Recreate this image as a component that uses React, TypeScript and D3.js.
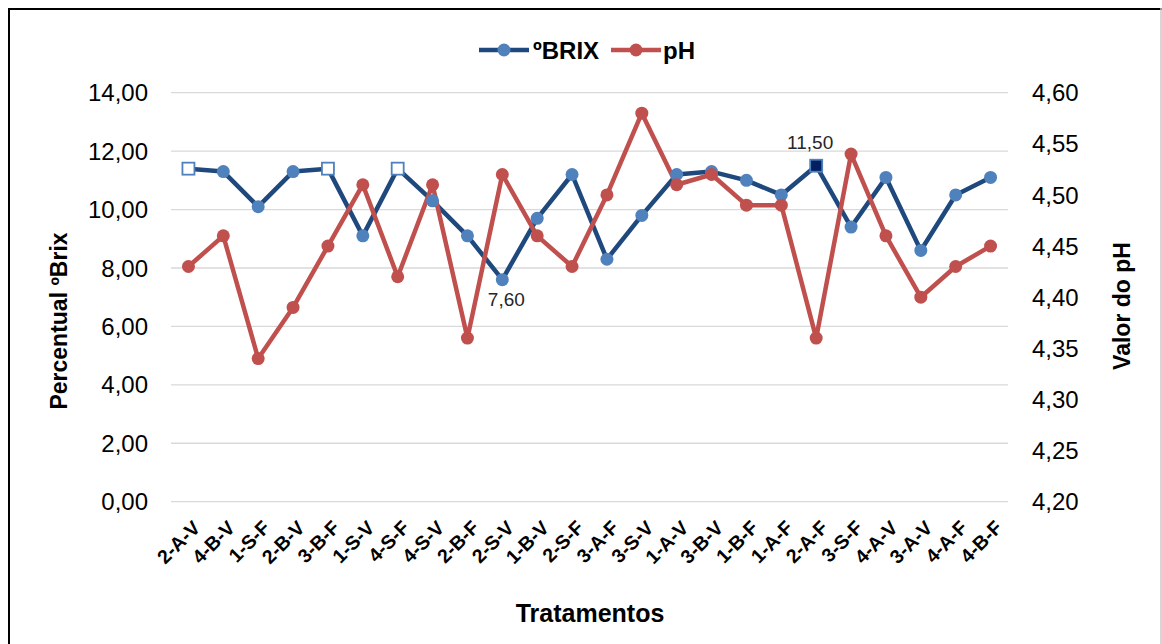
import { useEffect, useRef } from 'react'
import * as d3 from 'd3'

const categories = ['2-A-V', '4-B-V', '1-S-F', '2-B-V', '3-B-F', '1-S-V', '4-S-F', '4-S-V', '2-B-F', '2-S-V', '1-B-V', '2-S-F', '3-A-F', '3-S-V', '1-A-V', '3-B-V', '1-B-F', '1-A-F', '2-A-F', '3-S-F', '4-A-V', '3-A-V', '4-A-F', '4-B-F']
const brix = [11.4, 11.3, 10.1, 11.3, 11.4, 9.1, 11.4, 10.3, 9.1, 7.6, 9.7, 11.2, 8.3, 9.8, 11.2, 11.3, 11.0, 10.5, 11.5, 9.4, 11.1, 8.6, 10.5, 11.1]
const ph = [4.43, 4.46, 4.34, 4.39, 4.45, 4.51, 4.42, 4.51, 4.36, 4.52, 4.46, 4.43, 4.50, 4.58, 4.51, 4.52, 4.49, 4.49, 4.36, 4.54, 4.46, 4.40, 4.43, 4.45]
// points drawn as hollow squares, and the highlighted one
const hollowSquares = ['2-A-V', '3-B-F', '4-S-F']
const highlighted = '2-A-F'
const labelled = [
  { cat: '2-S-V', text: '7,60', pos: 'below' },
  { cat: '2-A-F', text: '11,50', pos: 'above' },
]
const brixTicks = [0, 2, 4, 6, 8, 10, 12, 14]
const phTicks = [4.2, 4.25, 4.3, 4.35, 4.4, 4.45, 4.5, 4.55, 4.6]

const FONT = '"Liberation Sans", Arial, sans-serif'
const BLUE_LINE = '#1f497d'
const BLUE = '#4f81bd'
const RED = '#c0504d'

export default function App() {
  const ref = useRef<SVGSVGElement>(null)

  useEffect(() => {
    const svg = d3.select(ref.current)
    svg.selectAll('*').remove()

    const left = 171, right = 1008, top = 92.7, bottom = 501.7
    const fmt = (v: number, d: number) => v.toFixed(d).replace('.', ',')

    const x = d3.scaleBand().domain(categories).range([left, right])
    const cx = (c: string) => (x(c) as number) + x.bandwidth() / 2
    const yL = d3.scaleLinear().domain([0, 14]).range([bottom, top])
    const yR = d3.scaleLinear().domain([4.2, 4.6]).range([bottom, top])

    // frame
    svg.append('line').attr('x1', 9).attr('x2', 9).attr('y1', 8).attr('y2', 644).attr('stroke', '#000').attr('stroke-width', 2)
    svg.append('line').attr('x1', 8).attr('x2', 1162).attr('y1', 9).attr('y2', 9).attr('stroke', '#000').attr('stroke-width', 2)
    svg.append('line').attr('x1', 1161).attr('x2', 1161).attr('y1', 8).attr('y2', 644).attr('stroke', '#c8c8c8').attr('stroke-width', 1.5)

    // gridlines
    svg.append('g').selectAll('line').data(brixTicks).enter().append('line')
      .attr('x1', left).attr('x2', right)
      .attr('y1', d => yL(d)).attr('y2', d => yL(d))
      .attr('stroke', '#d9d9d9').attr('stroke-width', 1.3)

    // left ticks
    svg.append('g').selectAll('text').data(brixTicks).enter().append('text')
      .attr('x', 148).attr('y', d => yL(d)).attr('dy', '0.36em')
      .attr('text-anchor', 'end').attr('font-family', FONT).attr('font-size', 24).attr('fill', '#000')
      .text(d => fmt(d, 2))

    // right ticks
    svg.append('g').selectAll('text').data(phTicks).enter().append('text')
      .attr('x', 1032).attr('y', d => yR(d)).attr('dy', '0.36em')
      .attr('font-family', FONT).attr('font-size', 24).attr('fill', '#000')
      .text(d => fmt(d, 2))

    // category labels
    svg.append('g').selectAll('text').data(categories).enter().append('text')
      .attr('transform', d => `translate(${cx(d) + 3},${519}) rotate(-45)`)
      .attr('text-anchor', 'end').attr('dy', '0.72em')
      .attr('font-family', FONT).attr('font-size', 19.5).attr('font-weight', 'bold').attr('fill', '#000')
      .text(d => d)

    // axis titles
    svg.append('text').attr('transform', 'translate(67,321) rotate(-90)')
      .attr('text-anchor', 'middle').attr('font-family', FONT).attr('font-size', 23).attr('font-weight', 'bold')
      .text('Percentual ºBrix')
    svg.append('text').attr('transform', 'translate(1130,306) rotate(-90)')
      .attr('text-anchor', 'middle').attr('font-family', FONT).attr('font-size', 23).attr('font-weight', 'bold')
      .text('Valor do pH')
    svg.append('text').attr('x', 590).attr('y', 622)
      .attr('text-anchor', 'middle').attr('font-family', FONT).attr('font-size', 25).attr('font-weight', 'bold')
      .text('Tratamentos')

    const brixPts = categories.map((c, i) => ({ c, v: brix[i] }))
    const phPts = categories.map((c, i) => ({ c, v: ph[i] }))
    const lineL = d3.line<{ c: string, v: number }>().x(d => cx(d.c)).y(d => yL(d.v))
    const lineR = d3.line<{ c: string, v: number }>().x(d => cx(d.c)).y(d => yR(d.v))

    svg.append('path').datum(brixPts).attr('d', lineL).attr('fill', 'none')
      .attr('stroke', BLUE_LINE).attr('stroke-width', 4.5).attr('stroke-linejoin', 'round')
    svg.append('path').datum(phPts).attr('d', lineR).attr('fill', 'none')
      .attr('stroke', RED).attr('stroke-width', 4.5).attr('stroke-linejoin', 'round')

    // brix markers
    const bm = svg.append('g')
    bm.selectAll('circle').data(brixPts.filter(d => !hollowSquares.includes(d.c) && d.c !== highlighted))
      .enter().append('circle')
      .attr('cx', d => cx(d.c)).attr('cy', d => yL(d.v)).attr('r', 6.5).attr('fill', BLUE)
    bm.selectAll('rect').data(brixPts.filter(d => hollowSquares.includes(d.c) || d.c === highlighted))
      .enter().append('rect')
      .attr('x', d => cx(d.c) - 6).attr('y', d => yL(d.v) - 6).attr('width', 12).attr('height', 12)
      .attr('fill', d => d.c === highlighted ? '#002060' : '#fff')
      .attr('stroke', BLUE).attr('stroke-width', 1.8)

    // ph markers
    svg.append('g').selectAll('circle').data(phPts).enter().append('circle')
      .attr('cx', d => cx(d.c)).attr('cy', d => yR(d.v)).attr('r', 6.5).attr('fill', RED)

    // data labels
    svg.append('g').selectAll('text').data(labelled).enter().append('text')
      .attr('x', d => cx(d.cat) + (d.pos === 'below' ? 4 : -6))
      .attr('y', d => {
        const v = brix[categories.indexOf(d.cat)]
        return d.pos === 'below' ? yL(v) + 26 : yL(v) - 17
      })
      .attr('text-anchor', 'middle').attr('font-family', FONT).attr('font-size', 19).attr('fill', '#262626')
      .text(d => d.text)

    // legend
    const lg = svg.append('g')
    const items = [
      { name: 'ºBRIX', line: BLUE_LINE, mark: BLUE, x0: 479, tx: 533 },
      { name: 'pH', line: RED, mark: RED, x0: 611, tx: 663 },
    ]
    items.forEach(it => {
      lg.append('line').attr('x1', it.x0).attr('x2', it.x0 + 50).attr('y1', 50).attr('y2', 50)
        .attr('stroke', it.line).attr('stroke-width', 4.5)
      lg.append('circle').attr('cx', it.x0 + 25).attr('cy', 50).attr('r', 6.5).attr('fill', it.mark)
      lg.append('text').attr('x', it.tx).attr('y', 50).attr('dy', '0.36em')
        .attr('font-family', FONT).attr('font-size', 24).attr('font-weight', 'bold').text(it.name)
    })
  }, [])

  return (
    <svg ref={ref} width={1162} height={644}
      style={{ position: 'absolute', left: 0, top: 0, background: '#fff' }} />
  )
}
